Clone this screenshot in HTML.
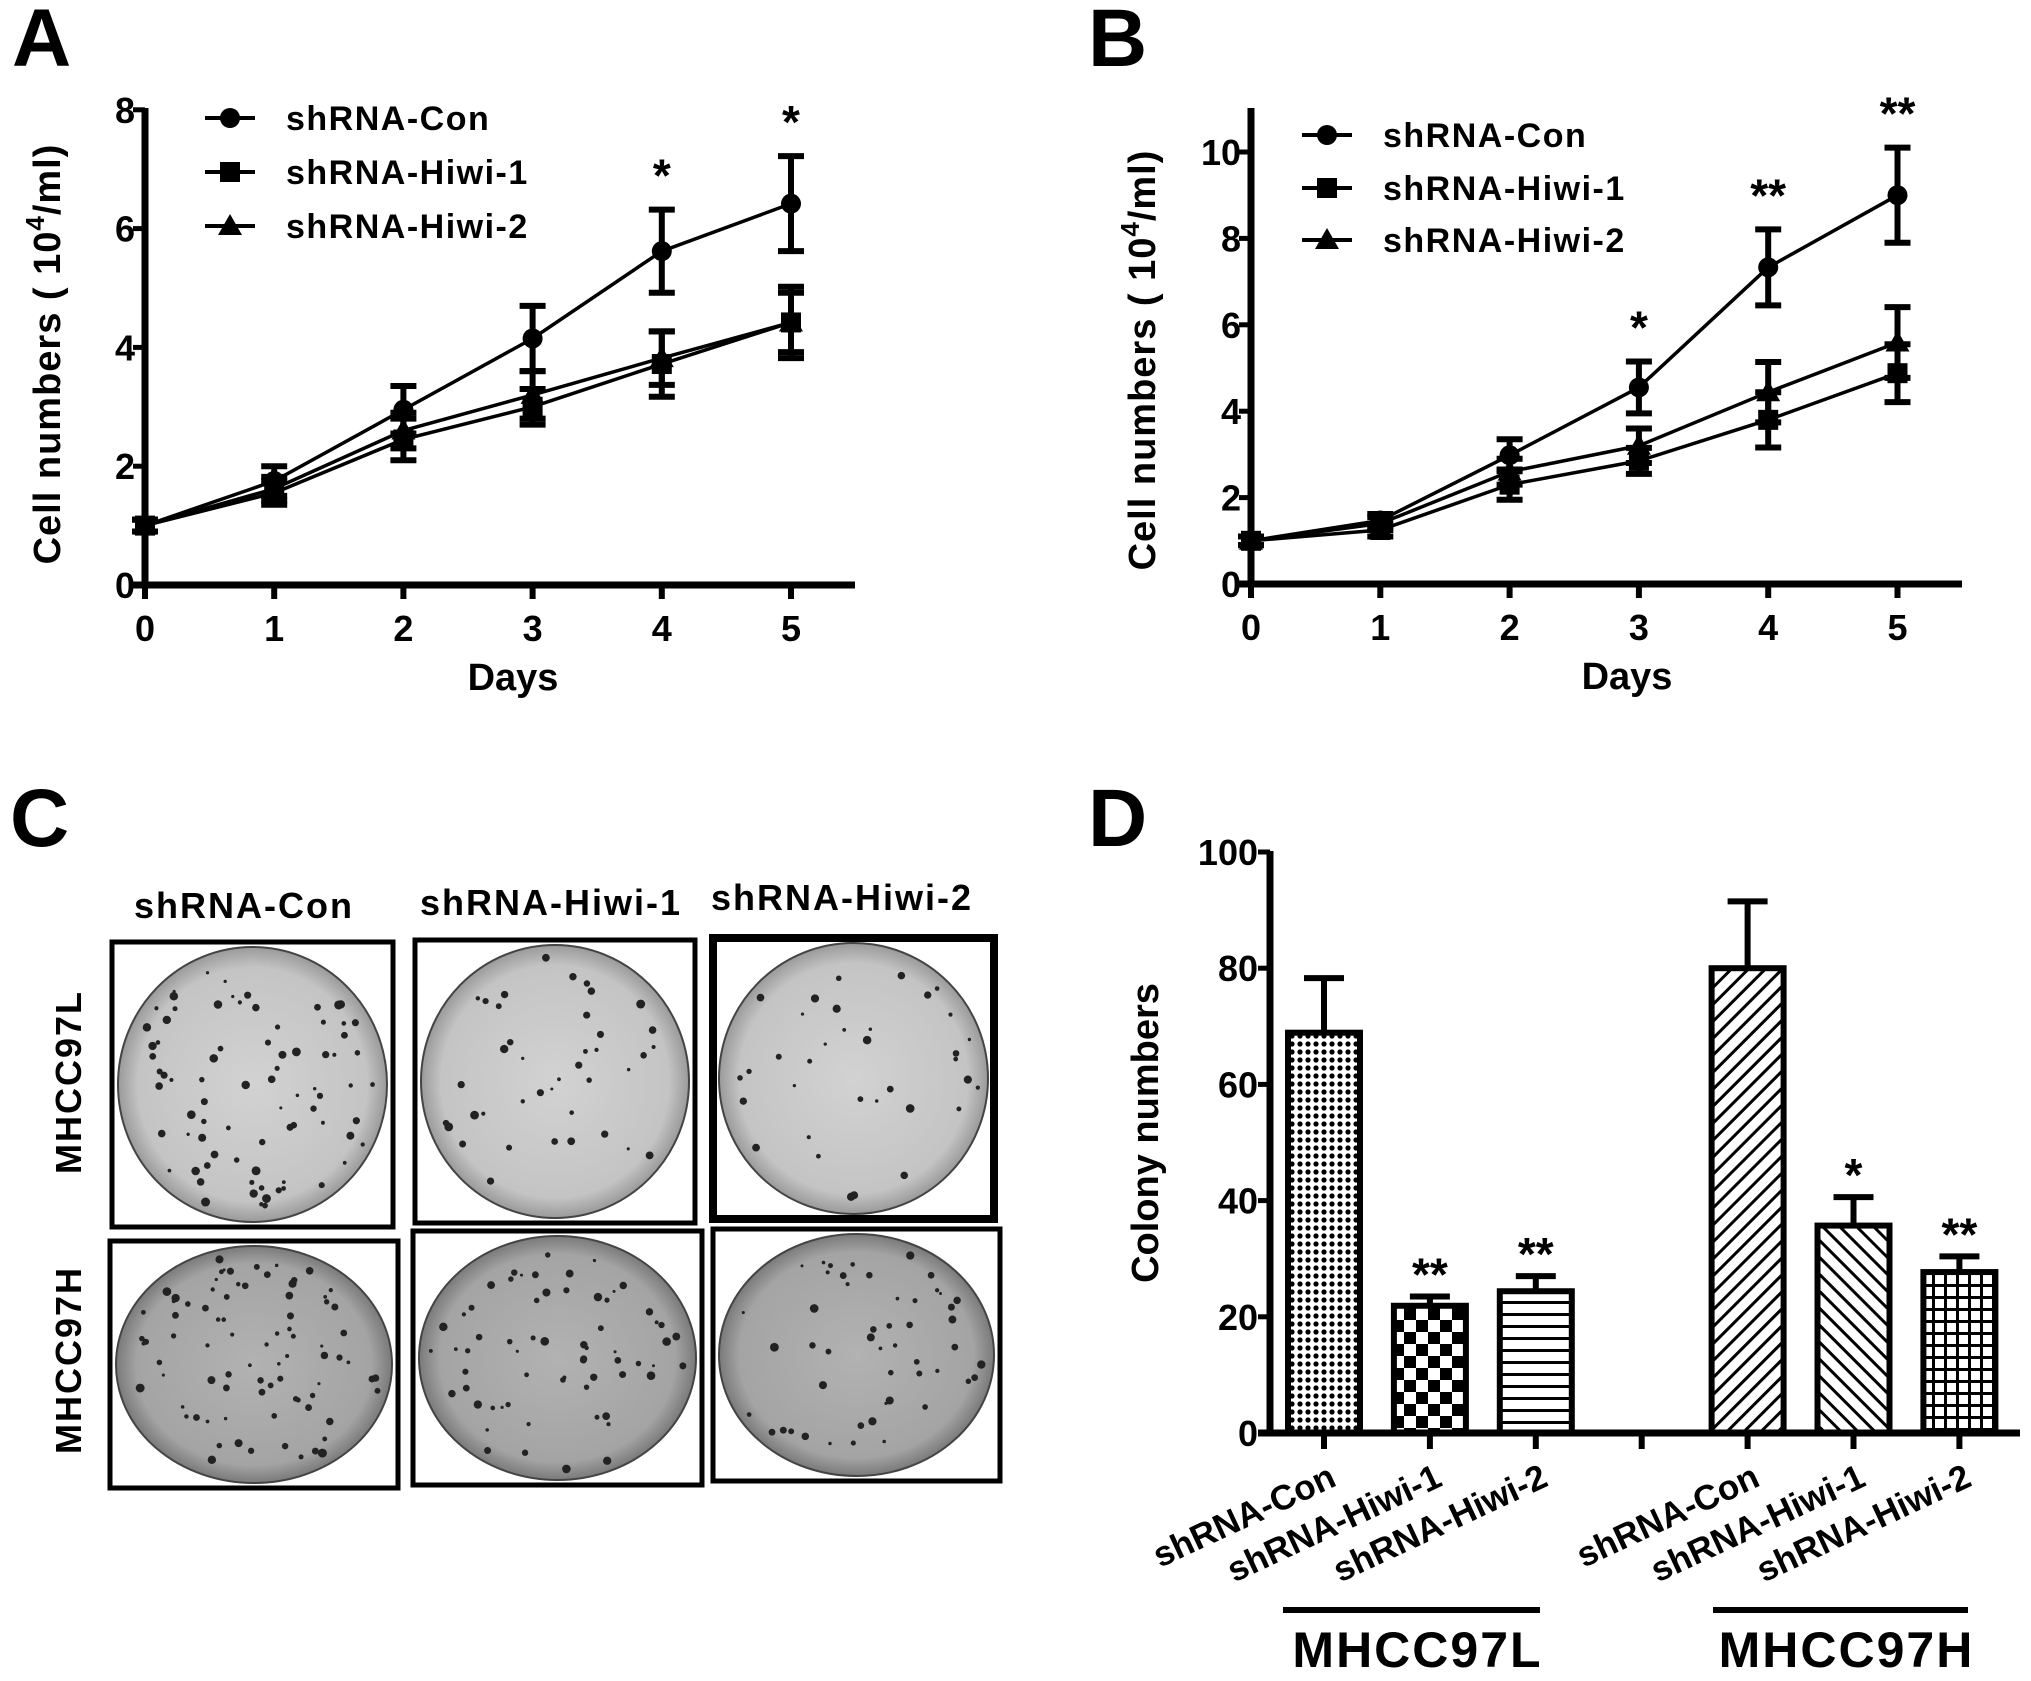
<!DOCTYPE html>
<html><head><meta charset="utf-8">
<style>
html,body{margin:0;padding:0;background:#fff;}
svg{display:block;font-family:"Liberation Sans",Arial,sans-serif;font-weight:bold;}
</style></head>
<body>
<svg id="fig" width="2031" height="1681" viewBox="0 0 2031 1681" xmlns="http://www.w3.org/2000/svg">
<defs>
<pattern id="pDots" width="8" height="8" patternUnits="userSpaceOnUse"><rect width="8" height="8" fill="#fff"/><circle cx="4" cy="4" r="2.6" fill="#000"/></pattern>
<pattern id="pCheck" width="24" height="24" patternUnits="userSpaceOnUse"><rect width="24" height="24" fill="#fff"/><rect width="12" height="12" fill="#000"/><rect x="12" y="12" width="12" height="12" fill="#000"/></pattern>
<pattern id="pHoriz" width="10" height="12" patternUnits="userSpaceOnUse"><rect width="10" height="12" fill="#fff"/><rect y="5" width="10" height="3" fill="#000"/></pattern>
<pattern id="pDiag1" width="12" height="12" patternUnits="userSpaceOnUse" patternTransform="rotate(45)"><rect width="12" height="12" fill="#fff"/><rect width="3" height="12" fill="#000"/></pattern>
<pattern id="pDiag2" width="12" height="12" patternUnits="userSpaceOnUse" patternTransform="rotate(-45)"><rect width="12" height="12" fill="#fff"/><rect width="3" height="12" fill="#000"/></pattern>
<pattern id="pGrid" width="12" height="12" patternUnits="userSpaceOnUse"><rect width="12" height="12" fill="#fff"/><rect width="3" height="12" fill="#000"/><rect width="12" height="3" fill="#000"/></pattern>
<radialGradient id="gLight"><stop offset="0" stop-color="#d2d2d2"/><stop offset="0.85" stop-color="#c4c4c4"/><stop offset="1" stop-color="#9a9a9a"/></radialGradient>
<radialGradient id="gDark"><stop offset="0" stop-color="#b2b2b2"/><stop offset="0.85" stop-color="#a4a4a4"/><stop offset="1" stop-color="#7a7a7a"/></radialGradient>
</defs>

<text x="12" y="66" font-size="82">A</text>
<text x="1088" y="66" font-size="82">B</text>
<text x="10" y="846" font-size="82">C</text>
<text x="1088" y="846" font-size="82">D</text>

<g id="panelA"></g>
<g id="panelB"></g>
<g id="panelC"></g>
<g id="panelD"></g>
</svg>

<script>
// ===== Panel A data =====
const daysA = [0, 1, 2, 3, 4, 5];
const conA = [1.0, 1.75, 2.95, 4.15, 5.62, 6.42];
const conAErr = [0.1, 0.25, 0.4, 0.55, 0.7, 0.8];
const hiwi1A = [1.0, 1.55, 2.45, 3.0, 3.72, 4.42];
const hiwi1AErr = [0.1, 0.2, 0.35, 0.3, 0.55, 0.6];
const hiwi2A = [1.0, 1.62, 2.6, 3.2, 3.82, 4.42];
const hiwi2AErr = [0.1, 0.2, 0.3, 0.4, 0.45, 0.5];
const yTicksA = [0, 2, 4, 6, 8];
const starsA = ["", "", "", "", "*", "*"];

// ===== Panel B data =====
const daysB = [0, 1, 2, 3, 4, 5];
const conB = [1.0, 1.47, 2.98, 4.55, 7.33, 9.0];
const conBErr = [0.1, 0.15, 0.37, 0.6, 0.88, 1.1];
const hiwi1B = [1.0, 1.25, 2.3, 2.85, 3.8, 4.88];
const hiwi1BErr = [0.1, 0.15, 0.35, 0.3, 0.64, 0.67];
const hiwi2B = [1.0, 1.4, 2.6, 3.2, 4.44, 5.59];
const hiwi2BErr = [0.1, 0.15, 0.3, 0.4, 0.7, 0.82];
const yTicksB = [0, 2, 4, 6, 8, 10];
const starsB = ["", "", "", "*", "**", "**"];

// ===== Panel D data =====
const barLabels = ["shRNA-Con", "shRNA-Hiwi-1", "shRNA-Hiwi-2", "", "shRNA-Con", "shRNA-Hiwi-1", "shRNA-Hiwi-2"];
const barValues = [68.9, 21.9, 24.4, null, 80, 35.7, 27.7];
const barErrors = [9.4, 1.6, 2.6, null, 11.5, 4.9, 2.7];
const barStars = ["", "**", "**", "", "", "*", "**"];
const yTicksD = [0, 20, 40, 60, 80, 100];

const NS = "http://www.w3.org/2000/svg";
function mk(parent, tag, attrs, text) {
  const e = document.createElementNS(NS, tag);
  for (const k in attrs) e.setAttribute(k, attrs[k]);
  if (text !== undefined) e.textContent = text;
  parent.appendChild(e);
  return e;
}

function marker(g, kind, x, y, s) {
  let m;
  if (kind === "circle") m = mk(g, "circle", {cx: x, cy: y, r: 10 * s, fill: "#000"});
  else if (kind === "square") m = mk(g, "rect", {x: x - 10 * s, y: y - 10 * s, width: 20 * s, height: 20 * s, fill: "#000"});
  else m = mk(g, "polygon", {points: `${x},${y - 12 * s} ${x - 12 * s},${y + 9 * s} ${x + 12 * s},${y + 9 * s}`, fill: "#000"});
  return m;
}

function lineChart(g, cfg) {
  const X = d => cfg.x0 + d * cfg.dx;
  const Y = v => cfg.y0 - v * cfg.pu;
  const ya = mk(g, "line", {x1: cfg.x0, y1: cfg.axisTop, x2: cfg.x0, y2: cfg.y0 + 3, stroke: "#000", "stroke-width": 7});
  
  
  const xa = mk(g, "line", {x1: cfg.x0 - 12, y1: cfg.y0, x2: cfg.xEnd, y2: cfg.y0, stroke: "#000", "stroke-width": 7});
  
  
  cfg.yTicks.forEach(t => {
    mk(g, "line", {x1: cfg.x0 - 12, y1: Y(t), x2: cfg.x0, y2: Y(t), stroke: "#000", "stroke-width": 5});
    const lb = mk(g, "text", {x: cfg.x0 - 10, y: Y(t) + 13, "font-size": 36, "text-anchor": "end"}, t);
    
    
  });
  cfg.days.forEach(d => {
    mk(g, "line", {x1: X(d), y1: cfg.y0, x2: X(d), y2: cfg.y0 + 14, stroke: "#000", "stroke-width": 6});
    const lb = mk(g, "text", {x: X(d), y: cfg.y0 + 56, "font-size": 36, "text-anchor": "middle"}, d);
    
    
  });
  const xt = mk(g, "text", {x: cfg.xTitle, y: cfg.y0 + 105, "font-size": 38, "text-anchor": "middle"}, "Days");
  
  
  const yt = mk(g, "text", {x: 0, y: 0, "font-size": 38, "text-anchor": "middle", "letter-spacing": 1, transform: `translate(${cfg.yTitleX},${cfg.yTitleY}) rotate(-90)`});
  
  
  yt.appendChild(document.createTextNode("Cell numbers ( 10"));
  mk(yt, "tspan", {dy: -16, "font-size": 26}, "4");
  mk(yt, "tspan", {dy: 16}, "/ml)");
  cfg.series.forEach(s => {
    const sg = mk(g, "g", {});
    
    
    const pts = cfg.days.map((d, i) => `${X(d)},${Y(s.vals[i])}`).join(" ");
    mk(sg, "polyline", {points: pts, fill: "none", stroke: "#000", "stroke-width": 3.5});
    cfg.days.forEach((d, i) => {
      const v = s.vals[i], e = s.err[i];
      mk(sg, "line", {x1: X(d), y1: Y(v + e), x2: X(d), y2: Y(v - e), stroke: "#000", "stroke-width": 6});
      mk(sg, "line", {x1: X(d) - 13, y1: Y(v + e), x2: X(d) + 13, y2: Y(v + e), stroke: "#000", "stroke-width": 6});
      mk(sg, "line", {x1: X(d) - 13, y1: Y(v - e), x2: X(d) + 13, y2: Y(v - e), stroke: "#000", "stroke-width": 6});
      const m = marker(sg, s.kind, X(d), Y(v), 1);
      
      
    });
  });
  cfg.days.forEach((d, i) => {
    if (!cfg.stars[i]) return;
    const top = cfg.series[0].vals[i] + cfg.series[0].err[i];
    const st = mk(g, "text", {x: X(d), y: Y(top) - 18, "font-size": 46, "text-anchor": "middle"}, cfg.stars[i]);
    
    
  });
  cfg.series.forEach((s, i) => {
    const ly = cfg.legY[i];
    const lg = mk(g, "g", {});
    
    
    mk(lg, "line", {x1: cfg.legX, y1: ly, x2: cfg.legX + 50, y2: ly, stroke: "#000", "stroke-width": 4});
    marker(lg, s.kind, cfg.legX + 25, ly, 1);
    mk(lg, "text", {x: cfg.legX + 81, y: ly + 12, "font-size": 34, "letter-spacing": 1.5}, s.label);
  });
}

lineChart(document.getElementById("panelA"), {
  x0: 145, dx: 129.2, y0: 585, pu: 59.4, axisTop: 108, xEnd: 855,
  days: daysA, yTicks: yTicksA, stars: starsA, xTitle: 513, yTitleX: 60, yTitleY: 354,
  legX: 205, legY: [118, 172, 226],
  series: [
    {key: "shrna-con", label: "shRNA-Con", kind: "circle", vals: conA, err: conAErr},
    {key: "shrna-hiwi-1", label: "shRNA-Hiwi-1", kind: "square", vals: hiwi1A, err: hiwi1AErr},
    {key: "shrna-hiwi-2", label: "shRNA-Hiwi-2", kind: "triangle", vals: hiwi2A, err: hiwi2AErr}
  ]
});
lineChart(document.getElementById("panelB"), {
  x0: 1251, dx: 129.3, y0: 584, pu: 43.2, axisTop: 108, xEnd: 1962,
  days: daysB, yTicks: yTicksB, stars: starsB, xTitle: 1627, yTitleX: 1155, yTitleY: 360,
  legX: 1302, legY: [135, 188, 240],
  series: [
    {key: "shrna-con", label: "shRNA-Con", kind: "circle", vals: conB, err: conBErr},
    {key: "shrna-hiwi-1", label: "shRNA-Hiwi-1", kind: "square", vals: hiwi1B, err: hiwi1BErr},
    {key: "shrna-hiwi-2", label: "shRNA-Hiwi-2", kind: "triangle", vals: hiwi2B, err: hiwi2BErr}
  ]
});

// ===== Panel C: plates =====
(function () {
  const g = document.getElementById("panelC");
  const heads = [["shRNA-Con", 244, 918], ["shRNA-Hiwi-1", 551, 915], ["shRNA-Hiwi-2", 842, 910]];
  heads.forEach(h => {
    const t = mk(g, "text", {x: h[1], y: h[2], "font-size": 36, "text-anchor": "middle", "letter-spacing": 2}, h[0]);
    
    
  });
  const rows = [["MHCC97L", 68, 1082], ["MHCC97H", 68, 1360]];
  rows.forEach(r => {
    const t = mk(g, "text", {x: 0, y: 0, "font-size": 36, "text-anchor": "middle", "letter-spacing": 2, transform: `translate(${r[1] + 13},${r[2]}) rotate(-90)`}, r[0]);
    
    
  });
  const boxes = [
    [112, 942, 281, 285, "gLight", 0], [415, 940, 280, 283, "gLight", 1], [713, 938, 281, 281, "gLight", 2],
    [110, 1241, 288, 247, "gDark", 3], [413, 1231, 289, 254, "gDark", 4], [713, 1229, 287, 252, "gDark", 5]
  ];
  let seed = 7;
  const rnd = () => { seed = (seed * 16807) % 2147483647; return seed / 2147483647; };
  const counts = [80, 40, 35, 85, 65, 50];
  boxes.forEach(b => {
    const [x, y, w, h, grad, idx] = b;
    const bg = mk(g, "g", {});
    
    
    mk(bg, "rect", {x: x, y: y, width: w, height: h, fill: "#fff", stroke: "#000", "stroke-width": idx === 2 ? 8 : 5});
    const cx = x + w / 2, cy = y + h / 2, rx = w / 2 - 6, ry = h / 2 - 5;
    mk(bg, "ellipse", {cx: cx, cy: cy, rx: rx, ry: ry, fill: `url(#${grad})`, stroke: "#444", "stroke-width": 2});
    for (let k = 0; k < counts[idx]; k++) {
      const a = rnd() * Math.PI * 2, rr = Math.sqrt(rnd()) * 0.93;
      mk(bg, "circle", {cx: cx + Math.cos(a) * rr * rx, cy: cy + Math.sin(a) * rr * ry, r: 1.5 + rnd() * 3, fill: "#222"});
    }
  });
})();

// ===== Panel D: bar chart =====
(function () {
  const g = document.getElementById("panelD");
  const x0 = 1270, y0 = 1433, pu = 5.81, bx0 = 1324, bdx = 105.9, bw = 72;
  const Y = v => y0 - v * pu;
  const X = i => bx0 + i * bdx;
  const fills = ["pDots", "pCheck", "pHoriz", "", "pDiag1", "pDiag2", "pGrid"];
  barValues.forEach((v, i) => {
    if (v === null) return;
    const e = barErrors[i];
    mk(g, "line", {x1: X(i), y1: Y(v), x2: X(i), y2: Y(v + e), stroke: "#000", "stroke-width": 6});
    mk(g, "line", {x1: X(i) - 20, y1: Y(v + e), x2: X(i) + 20, y2: Y(v + e), stroke: "#000", "stroke-width": 6});
    const b = mk(g, "rect", {x: X(i) - bw / 2, y: Y(v), width: bw, height: v * pu, fill: `url(#${fills[i]})`, stroke: "#000", "stroke-width": 6});
    
    
    if (barStars[i]) {
      const s = mk(g, "text", {x: X(i), y: Y(v + e) - 6, "font-size": 46, "text-anchor": "middle"}, barStars[i]);
      
      
    }
  });
  const ya = mk(g, "line", {x1: x0, y1: 851, x2: x0, y2: y0 + 3, stroke: "#000", "stroke-width": 7});
  
  
  const xa = mk(g, "line", {x1: x0 - 12, y1: y0, x2: 2020, y2: y0, stroke: "#000", "stroke-width": 7});
  
  
  yTicksD.forEach(t => {
    mk(g, "line", {x1: x0 - 12, y1: Y(t), x2: x0, y2: Y(t), stroke: "#000", "stroke-width": 5});
    const lb = mk(g, "text", {x: x0 - 12, y: Y(t) + 13, "font-size": 36, "text-anchor": "end"}, t);
    
    
  });
  barLabels.forEach((l, i) => {
    mk(g, "line", {x1: X(i), y1: y0, x2: X(i), y2: y0 + 16, stroke: "#000", "stroke-width": 6});
    if (!l) return;
    const t = mk(g, "text", {x: 0, y: 0, "font-size": 35, "text-anchor": "end", transform: `translate(${X(i) + 14},${y0 + 52}) rotate(-25)`}, l);
    
    
  });
  const yt = mk(g, "text", {x: 0, y: 0, "font-size": 38, "text-anchor": "middle", transform: "translate(1158,1133) rotate(-90)"}, "Colony numbers");
  
  
  [["MHCC97L", 1283, 1540], ["MHCC97H", 1713, 1968]].forEach(gr => {
    mk(g, "line", {x1: gr[1], y1: 1610, x2: gr[2], y2: 1610, stroke: "#000", "stroke-width": 6});
    const t = mk(g, "text", {x: (gr[1] + gr[2]) / 2 + 6, y: 1667, "font-size": 50, "text-anchor": "middle", "letter-spacing": 2}, gr[0]);
    
    
  });
})();
</script>
</body></html>
